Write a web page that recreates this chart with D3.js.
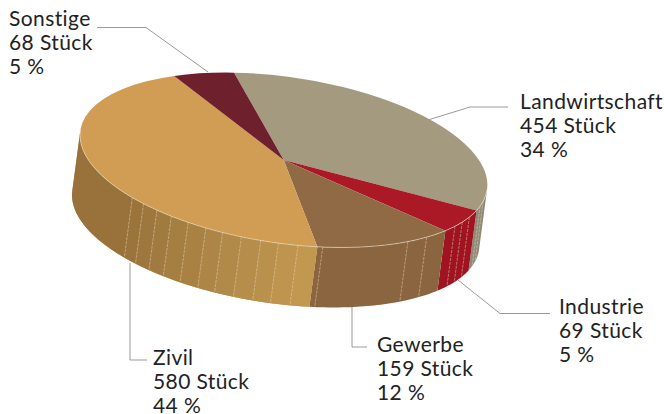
<!DOCTYPE html>
<html>
<head>
<meta charset="utf-8">
<script src="https://cdn.jsdelivr.net/npm/d3@7"></script>
<style>
  html, body { margin: 0; background: #fff; }
  text { font-family: Lato, sans-serif; font-size: 21px; letter-spacing: 0.4px; font-variant-ligatures: none; fill: #222; }
</style>
</head>
<body>
<script>
const width = 664;
const height = 414;

const categories = ['Landwirtschaft', 'Industrie', 'Gewerbe', 'Zivil', 'Sonstige'];
const counts = [454, 69, 159, 580, 68];
const shares = [34, 5, 12, 44, 5];
const topColors = ['#a39a80', '#ab1826', '#906a45', '#d19c54', '#6e202c'];
const sideColors = ['#8f8a78', '#a01320', '#8a6540', '#c49a52', '#6e202c'];
// stripes on the wall of each slice, in degrees from the slice start
const sideStripes = [
  [116, 119.5],
  [5.5, 10, 14],
  [8, 15, 41.5],
  [5.5, 11, 16, 21.5, 27, 32, 37.5, 43, 48, 53, 57.5],
  [],
];
const labelX = [520, 559, 377, 153, 9];
const labelY = [108.5, 314, 352, 365, 26];
const leaders = [
  [[508, 107], [470, 107], [428, 120]],
  [[550, 313.5], [500, 313.5], [458, 280]],
  [[367, 347], [352, 347], [352, 307]],
  [[147, 360], [130, 360], [130, 263]],
  [[97, 27.5], [146, 27.5], [208, 72]],
];

// ellipse of the pie top
const cx = 283.7, cy = 160, rx = 205.5, ry = 83.1, tilt = 8.33;
const wallDx = -8, wallDy = 60;
const rad = Math.PI / 180;

const pie = d3.pie().sort(null).startAngle(-17.5 * rad).endAngle(342.5 * rad);
const slices = pie(counts);
const arc = d3.arc().innerRadius(0).outerRadius(rx);

function rim(a) {
  const x = rx * Math.sin(a), y = -ry * Math.cos(a);
  const t = tilt * rad;
  return [cx + x * Math.cos(t) - y * Math.sin(t), cy + x * Math.sin(t) + y * Math.cos(t)];
}

const svg = d3.select('body').append('svg').attr('width', width).attr('height', height);

const line = d3.line();

function wallPath(a0, a1) {
  const steps = d3.range(0, 41).map(i => a0 + (a1 - a0) * i / 40);
  const upper = steps.map(rim);
  const lower = steps.map(rim).reverse().map(p => [p[0] + wallDx, p[1] + wallDy]);
  return line(upper.concat(lower)) + 'Z';
}

// leaders go behind the pie
svg.selectAll('.leader')
  .data(leaders)
  .join('path')
    .attr('class', 'leader')
    .attr('d', d => line(d))
    .attr('fill', 'none')
    .attr('stroke', '#9a9a9a')
    .attr('stroke-width', 1);

// walls, only the front half shows (the depth runs along the minor axis)
const wallFrom = [90 * rad, null, null, null, null];
const wallTo = [null, null, null, 270 * rad, null];
const zivilShade = d3.scaleLinear().domain([0, 57.5]).range(['#c49a52', '#98723a']);

slices.forEach((s, i) => {
  if (i === 4) return;
  const a0 = wallFrom[i] !== null ? wallFrom[i] : s.startAngle;
  const a1 = wallTo[i] !== null ? wallTo[i] : s.endAngle;
  svg.append('path').attr('d', wallPath(a0, a1)).attr('fill', sideColors[i]);

  const stripes = sideStripes[i];
  if (i === 3) {
    stripes.forEach((deg, j) => {
      const from = j === 0 ? 0 : stripes[j - 1];
      svg.append('path')
        .attr('d', wallPath(s.startAngle + from * rad, s.startAngle + deg * rad + 0.002))
        .attr('fill', zivilShade((from + deg) / 2));
    });
    const last = stripes[stripes.length - 1];
    svg.append('path')
      .attr('d', wallPath(s.startAngle + last * rad, a1))
      .attr('fill', zivilShade(57.5));
  }
  stripes.forEach(deg => {
    const p = rim(s.startAngle + deg * rad);
    svg.append('line')
      .attr('x1', p[0]).attr('y1', p[1])
      .attr('x2', p[0] + wallDx).attr('y2', p[1] + wallDy)
      .attr('stroke', '#e6d8bc')
      .attr('stroke-opacity', 0.6)
      .attr('stroke-width', 0.8)
      .attr('stroke-dasharray', '3 1');
  });
});

// top
const pieTop = svg.append('g')
  .attr('transform', `translate(${cx},${cy}) rotate(${tilt}) scale(1,${ry / rx})`);
pieTop.selectAll('path')
  .data(slices)
  .join('path')
    .attr('d', arc)
    .attr('fill', (d, i) => topColors[i]);

// light edge along the front of the top
const edge = d3.range(0, 61).map(i => rim((90 + i * 3) * rad));
svg.append('path')
  .attr('d', line(edge))
  .attr('fill', 'none')
  .attr('stroke', '#efe4cc')
  .attr('stroke-opacity', 0.7)
  .attr('stroke-width', 0.8);

// labels
const labels = svg.selectAll('.label')
  .data(categories)
  .join('text')
    .attr('class', 'label');
labels.each(function (name, i) {
  const rows = [name, counts[i] + ' Stück', shares[i] + ' %'];
  d3.select(this).selectAll('tspan')
    .data(rows)
    .join('tspan')
      .attr('x', labelX[i])
      .attr('y', (d, j) => labelY[i] + j * 24)
      .text(d => d);
});
</script>
</body>
</html>
